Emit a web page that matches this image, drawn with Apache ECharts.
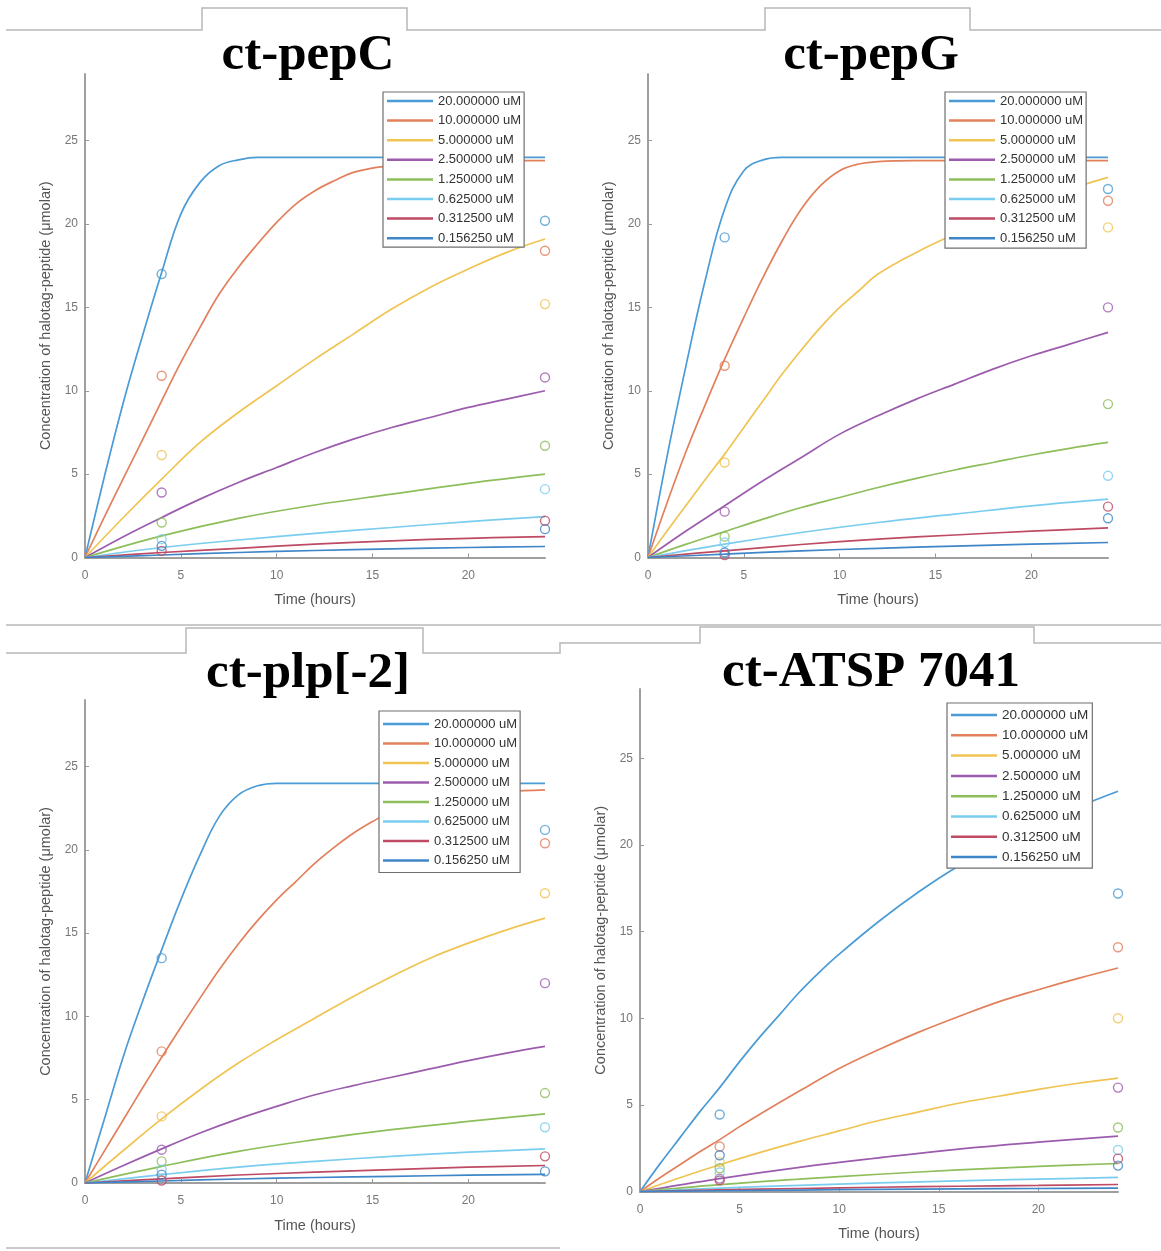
<!DOCTYPE html>
<html>
<head>
<meta charset="utf-8">
<script src="https://cdn.jsdelivr.net/npm/echarts@6/dist/echarts.min.js"></script>
<style>
html, body { margin: 0; padding: 0; background: #fff; }
#chart { width: 1161px; height: 1251px; }
</style>
</head>
<body>
<div id="chart"></div>
<script>
// legend labels, one per concentration
const concLabels = ['20.000000 uM', '10.000000 uM', '5.000000 uM', '2.500000 uM',
    '1.250000 uM', '0.625000 uM', '0.312500 uM', '0.156250 uM']
const panelTitles = ['ct-pepC', 'ct-pepG', 'ct-plp[-2]', 'ct-ATSP 7041']
const sampleTimes = [4, 24]
const xTicks = [0, 5, 10, 15, 20]
const yTicks = [0, 5, 10, 15, 20, 25]

// fitted curves [time, conc], one array per concentration
const pepCFits = [
    [[0,0],[1,4.8],[2,9.3],[3,13.3],[4,17.1],[5,20.6],[6,22.5],[7,23.5],[8,23.85],[9,24],[12,24],[16,24],[20,24],[24,24]],
    [[0,0],[1,2.4],[2,4.75],[3,7.05],[4,9.4],[5,11.7],[6,13.8],[7,15.8],[8,17.4],[9,18.8],[10,20.1],[11,21.2],[12,22.0],[13,22.6],[14,23.1],[15,23.35],[16,23.5],[18,23.7],[20,23.8],[24,23.8]],
    [[0,0],[2,2.4],[4,4.7],[6,6.9],[8,8.7],[10,10.3],[12,11.9],[14,13.4],[16,14.9],[18,16.2],[20,17.3],[22,18.3],[24,19.1]],
    [[0,0],[2,1.25],[4,2.4],[6,3.5],[8,4.5],[10,5.4],[12,6.3],[14,7.1],[16,7.8],[18,8.4],[20,9.0],[22,9.5],[24,10.0]],
    [[0,0],[4,1.3],[8,2.35],[12,3.15],[16,3.8],[20,4.45],[24,5.0]],
    [[0,0],[4,0.6],[8,1.05],[12,1.45],[16,1.8],[20,2.15],[24,2.45]],
    [[0,0],[4,0.3],[8,0.55],[12,0.8],[16,1.0],[20,1.15],[24,1.25]],
    [[0,0],[4,0.15],[8,0.3],[12,0.42],[16,0.52],[20,0.6],[24,0.66]]
]
const pepCObs4h = [17.0, 10.9, 6.15, 3.9, 2.1, 1.1, 0.4, 0.7]
const pepCObs24h = [20.2, 18.4, 15.2, 10.8, 6.7, 4.1, 2.2, 1.7]

const pepGFits = [
    [[0,0],[1,6.1],[2,11.6],[3,16.7],[4,20.9],[5,23.2],[6,23.85],[7,24],[10,24],[16,24],[24,24]],
    [[0,0],[1,3.3],[2,6.4],[3,9.2],[4,11.9],[5,14.4],[6,16.8],[7,19.0],[8,20.9],[9,22.3],[10,23.2],[11,23.6],[12,23.75],[14,23.8],[24,23.8]],
    [[0,0],[1,1.6],[2,3.15],[3,4.7],[4,6.2],[5,7.8],[6,9.4],[7,11.0],[8,12.45],[9,13.8],[10,15.0],[11,16.0],[12,17.0],[14,18.3],[16,19.4],[18,20.4],[20,21.3],[22,22.1],[24,22.8]],
    [[0,0],[2,1.6],[4,3.1],[6,4.6],[8,6.0],[10,7.4],[12,8.5],[14,9.5],[16,10.4],[18,11.3],[20,12.1],[22,12.8],[24,13.5]],
    [[0,0],[2,0.8],[4,1.55],[6,2.3],[8,3.0],[10,3.6],[12,4.2],[14,4.75],[16,5.25],[18,5.7],[20,6.15],[22,6.55],[24,6.9]],
    [[0,0],[4,0.8],[8,1.5],[12,2.1],[16,2.6],[20,3.1],[24,3.5]],
    [[0,0],[4,0.4],[8,0.78],[12,1.1],[16,1.35],[20,1.58],[24,1.78]],
    [[0,0],[4,0.2],[8,0.4],[12,0.55],[16,0.68],[20,0.8],[24,0.9]]
]
const pepGObs4h = [19.2, 11.5, 5.7, 2.75, 1.25, 0.9, 0.15, 0.3]
const pepGObs24h = [22.1, 21.4, 19.8, 15.0, 9.2, 4.9, 3.05, 2.35]

const plpFits = [
    [[0,0],[1,3.8],[2,7.6],[3,10.9],[4,14.0],[5,17.0],[6,19.7],[7,22.0],[8,23.3],[9,23.85],[10,24],[16,24],[24,24]],
    [[0,0],[1,1.9],[2,3.8],[3,5.7],[4,7.55],[5,9.35],[6,11.1],[7,12.8],[8,14.35],[9,15.75],[10,17.0],[11,18.1],[12,19.2],[13,20.15],[14,21.0],[15,21.7],[16,22.3],[18,23.0],[20,23.35],[22,23.5],[24,23.6]],
    [[0,0],[2,1.95],[4,3.85],[6,5.6],[8,7.2],[10,8.6],[12,9.9],[14,11.2],[16,12.4],[18,13.5],[20,14.4],[22,15.2],[24,15.9]],
    [[0,0],[2,1.05],[4,2.05],[6,3.0],[8,3.85],[10,4.6],[12,5.3],[14,5.85],[16,6.35],[18,6.85],[20,7.35],[22,7.8],[24,8.2]],
    [[0,0],[4,1.0],[8,1.9],[12,2.6],[16,3.2],[20,3.7],[24,4.15]],
    [[0,0],[4,0.5],[8,0.95],[12,1.3],[16,1.6],[20,1.85],[24,2.05]],
    [[0,0],[4,0.25],[8,0.48],[12,0.65],[16,0.8],[20,0.95],[24,1.05]],
    [[0,0],[4,0.12],[8,0.24],[12,0.33],[16,0.4],[20,0.47],[24,0.52]]
]
const plpObs4h = [13.5, 7.9, 4.0, 2.0, 1.3, 0.8, 0.15, 0.5]
const plpObs24h = [21.2, 20.4, 17.4, 12.0, 5.4, 3.35, 1.6, 0.7]

const atspFits = [
    [[0,0],[1,1.6],[2,3.1],[3,4.6],[4,6.0],[5,7.5],[6,8.9],[7,10.2],[8,11.5],[9,12.65],[10,13.7],[12,15.6],[14,17.3],[16,18.8],[18,20.1],[20,21.2],[22,22.2],[24,23.1]],
    [[0,0],[1,0.8],[2,1.55],[3,2.3],[4,3.0],[5,3.75],[6,4.45],[8,5.8],[10,7.1],[12,8.2],[14,9.2],[16,10.1],[18,10.95],[20,11.65],[22,12.3],[24,12.9]],
    [[0,0],[2,0.8],[4,1.55],[6,2.25],[8,2.9],[10,3.5],[12,4.1],[14,4.6],[16,5.1],[18,5.5],[20,5.9],[22,6.25],[24,6.55]],
    [[0,0],[4,0.75],[8,1.4],[12,1.95],[16,2.45],[20,2.85],[24,3.2]],
    [[0,0],[4,0.4],[8,0.72],[12,1.0],[16,1.25],[20,1.45],[24,1.62]],
    [[0,0],[4,0.2],[8,0.36],[12,0.5],[16,0.62],[20,0.72],[24,0.82]],
    [[0,0],[4,0.1],[8,0.18],[12,0.25],[16,0.31],[20,0.36],[24,0.41]],
    [[0,0],[4,0.05],[8,0.09],[12,0.13],[16,0.16],[20,0.18],[24,0.2]]
]
const atspObs4h = [4.45, 2.6, 1.7, 0.75, 1.35, 1.1, 0.65, 2.1]
const atspObs24h = [17.2, 14.1, 10.0, 6.0, 3.7, 2.4, 1.9, 1.5]

// colours (matlab default order, a bit washed out like the screenshot)
const lineColors = ['#4A9BD6', '#E2805C', '#F0C452', '#9C5CAE', '#8DBE5A', '#7ACDEF', '#BE4A63', '#3F86C8']

// layout of the four panels
const gridBoxes = [
    { left: 85, top: 74, width: 460, height: 483.5 },
    { left: 648, top: 74, width: 460, height: 483.5 },
    { left: 85, top: 700, width: 460, height: 483 },
    { left: 640, top: 689, width: 478, height: 502.6 }
]
const titleBoxes = [
    { left: 303, top: 25 }, { left: 866, top: 25 },
    { left: 303, top: 643 }, { left: 866, top: 642 }
]
const legendBoxes = [
    { left: 383, top: 92, gap: 5.6, font: 13, padding: [2, 3, 2, 4] },
    { left: 945, top: 92, gap: 5.6, font: 13, padding: [2, 3, 3, 4] },
    { left: 379, top: 711, gap: 5.5, font: 13, padding: [6, 3, 5, 4] },
    { left: 947, top: 703, gap: 6.3, font: 13.5, padding: [5, 4, 4, 4] }
]

const panels = [
    { fits: pepCFits, obs: [pepCObs4h, pepCObs24h] },
    { fits: pepGFits, obs: [pepGObs4h, pepGObs24h] },
    { fits: plpFits, obs: [plpObs4h, plpObs24h] },
    { fits: atspFits, obs: [atspObs4h, atspObs24h] }
]

const sans = '"Liberation Sans", Arial, sans-serif'
const axisGrey = '#9f9f9f'

const chart = echarts.init(document.getElementById('chart'))

const series = []
panels.forEach((p, i) => {
    p.fits.forEach((curve, k) => {
        series.push({
            type: 'line',
            name: concLabels[k],
            xAxisIndex: i,
            yAxisIndex: i,
            data: curve,
            showSymbol: false,
            smooth: 0.4,
            lineStyle: { color: lineColors[k], width: 1.7 },
            itemStyle: { color: lineColors[k] },
            silent: true,
            z: 2
        })
    })
    concLabels.forEach((name, k) => {
        series.push({
            type: 'scatter',
            name: name,
            xAxisIndex: i,
            yAxisIndex: i,
            data: sampleTimes.map((t, j) => [t, p.obs[j][k]]),
            symbol: 'circle',
            symbolSize: 9,
            itemStyle: { color: 'rgba(0,0,0,0)', borderColor: lineColors[k], borderWidth: 1.4 },
            silent: true,
            z: 3
        })
    })
})

const option = {
    animation: false,
    backgroundColor: '#fff',
    title: panelTitles.map((t, i) => ({
        text: t,
        left: titleBoxes[i].left,
        top: titleBoxes[i].top,
        textAlign: 'center',
        textStyle: { fontFamily: '"Liberation Serif", "Times New Roman", serif', fontWeight: 'bold', fontSize: 51, color: '#000' }
    })),
    legend: legendBoxes.map((b) => ({
        data: concLabels,
        orient: 'vertical',
        left: b.left,
        top: b.top,
        itemGap: b.gap,
        itemWidth: 46,
        itemHeight: 2.5,
        icon: 'rect',
        padding: b.padding,
        backgroundColor: '#fff',
        borderColor: '#6f6f6f',
        borderWidth: 1.2,
        selectedMode: false,
        textStyle: { fontFamily: sans, fontSize: b.font, color: '#333', lineHeight: 14 }
    })),
    grid: gridBoxes.map((g) => ({ ...g, containLabel: false, outerBoundsMode: 'none' })),
    xAxis: gridBoxes.map((g, i) => ({
        type: 'value',
        gridIndex: i,
        min: 0,
        max: 24,
        name: 'Time (hours)',
        nameLocation: 'middle',
        nameGap: 35,
        nameTextStyle: { fontFamily: sans, fontSize: 14.5, color: '#555' },
        axisLine: { show: true, lineStyle: { color: axisGrey, width: 2 } },
        axisTick: { show: true, inside: true, length: 4, customValues: xTicks, lineStyle: { color: '#999' } },
        axisLabel: { customValues: xTicks, fontFamily: sans, fontSize: 12, color: '#777', margin: 12 },
        splitLine: { show: false }
    })),
    yAxis: gridBoxes.map((g, i) => ({
        type: 'value',
        gridIndex: i,
        min: 0,
        max: 29,
        name: 'Concentration of halotag-peptide (\u03bcmolar)',
        nameLocation: 'middle',
        nameGap: 32,
        nameTextStyle: { fontFamily: sans, fontSize: 14.5, color: '#555' },
        axisLine: { show: true, lineStyle: { color: axisGrey, width: 2 } },
        axisTick: { show: true, inside: true, length: 4, customValues: yTicks, lineStyle: { color: '#999' } },
        axisLabel: { customValues: yTicks, fontFamily: sans, fontSize: 12, color: '#777', margin: 7 },
        splitLine: { show: false }
    })),
    // grey frame lines from the pasted screenshot
    graphic: [
        { type: 'polyline', shape: { points: [[6,30],[202,30],[202,8],[407,8],[407,30],[765,30],[765,8],[970,8],[970,30],[1161,30]] }, style: { stroke: '#b8b8b8', lineWidth: 1.5, fill: null } },
        { type: 'polyline', shape: { points: [[6,625],[1161,625]] }, style: { stroke: '#b8b8b8', lineWidth: 1.5, fill: null } },
        { type: 'polyline', shape: { points: [[6,653],[186,653],[186,628],[423,628],[423,653],[560,653],[560,643],[700,643],[700,627],[1034,627],[1034,643],[1161,643]] }, style: { stroke: '#b8b8b8', lineWidth: 1.5, fill: null } },
        { type: 'polyline', shape: { points: [[6,1248],[560,1248]] }, style: { stroke: '#b8b8b8', lineWidth: 1.5, fill: null } }
    ],
    series: series
}

chart.setOption(option)
</script>
</body>
</html>
